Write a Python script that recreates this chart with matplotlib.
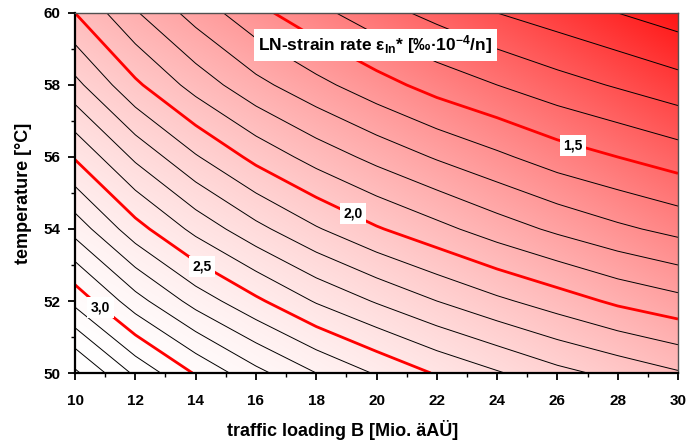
import numpy as np
import matplotlib.pyplot as plt
from matplotlib.ticker import MultipleLocator

plt.rcParams['font.family'] = ['Liberation Sans', 'DejaVu Sans']
plt.rcParams['font.weight'] = 'bold'
plt.rcParams['mathtext.fontset'] = 'custom'
plt.rcParams['mathtext.rm'] = 'Liberation Sans:bold'
plt.rcParams['mathtext.bf'] = 'Liberation Sans:bold'
plt.rcParams['mathtext.it'] = 'Liberation Sans:bold'

# grid: traffic loading B [Mio.] x temperature [°C]
traffic = [10, 12, 14, 16, 18, 20, 22, 24, 26, 28, 30]
temperature = [50, 52, 54, 56, 58, 60]
strain_50 = [3.42, 3.18, 2.99, 2.83, 2.70, 2.59, 2.49, 2.41, 2.33, 2.27, 2.21]
strain_52 = [3.07, 2.84, 2.66, 2.52, 2.39, 2.29, 2.20, 2.12, 2.05, 1.98, 1.93]
strain_54 = [2.76, 2.54, 2.37, 2.23, 2.11, 2.01, 1.93, 1.85, 1.78, 1.72, 1.67]
strain_56 = [2.49, 2.28, 2.11, 1.97, 1.86, 1.77, 1.69, 1.62, 1.55, 1.50, 1.45]
strain_58 = [2.23, 2.02, 1.86, 1.73, 1.63, 1.54, 1.46, 1.40, 1.34, 1.29, 1.24]
strain_60 = [2.00, 1.81, 1.66, 1.53, 1.43, 1.34, 1.27, 1.20, 1.15, 1.10, 1.05]

main_levels = [1.5, 2.0, 2.5, 3.0]
label_xy = [(26.52, 56.31), (19.22, 54.44), (14.2, 52.96), (10.85, 51.83)]

Z = np.array([strain_50, strain_52, strain_54, strain_56, strain_58, strain_60])
X, Y = np.meshgrid(traffic, temperature)

all_levels = np.round(np.arange(1.0, 3.65, 0.1), 1)
thin_levels = [l for l in all_levels if l not in main_levels]

fig = plt.figure(figsize=(6.87, 4.43), dpi=100)
ax = fig.add_axes([0.1092, 0.158, 0.8777, 0.8127])

# diagonal white -> red background
u = np.linspace(0, 1, 400)
v = np.linspace(0, 1, 300)
U, V = np.meshgrid(u, v)
t = ((U + V) / 2) ** 1.8
bg = np.dstack([np.ones_like(t), 1 - 0.92 * t, 1 - 0.92 * t])
ax.imshow(bg, extent=[10, 30, 50, 60], origin='lower', aspect='auto', zorder=0)

ax.contour(X, Y, Z, levels=thin_levels, colors='black', linewidths=0.7, zorder=1)
ax.contour(X, Y, Z, levels=main_levels, colors='#ff0000', linewidths=2.0, zorder=2)

for lev, (lx, ly) in zip(main_levels, label_xy):
    ax.text(lx, ly, f"{lev:.1f}".replace('.', ','), fontsize=10, fontweight='bold',
            ha='center', va='center', zorder=3,
            bbox=dict(facecolor='white', edgecolor='none', pad=2.5))

ax.text(0.498, 0.911, r"LN-strain rate ε$_{\mathbf{ln}}$* [‰·10$^{\mathbf{-4}}$/n]",
        transform=ax.transAxes, fontsize=12.5, fontweight='bold', ha='center', va='center',
        zorder=4, bbox=dict(facecolor='white', edgecolor='none', pad=3))

ax.set_xlim(10, 30)
ax.set_ylim(50, 60)
ax.xaxis.set_major_locator(MultipleLocator(2))
ax.xaxis.set_minor_locator(MultipleLocator(1))
ax.yaxis.set_major_locator(MultipleLocator(2))
ax.yaxis.set_minor_locator(MultipleLocator(1))
ax.tick_params(which='major', direction='out', length=5, width=1.3, labelsize=11)
ax.tick_params(which='minor', direction='out', length=3, width=1.0)
ax.tick_params(axis='x', which='major', pad=10)
ax.tick_params(axis='y', which='major', pad=5.5)
for lab in ax.get_xticklabels() + ax.get_yticklabels():
    lab.set_fontweight('bold')

for side in ['left', 'bottom']:
    ax.spines[side].set_linewidth(1.6)
    ax.spines[side].set_color('black')
for side in ['top', 'right']:
    ax.spines[side].set_linewidth(1.0)
    ax.spines[side].set_color('#505050')

ax.set_xlabel("traffic loading B [Mio. äAÜ]", fontsize=13, fontweight='bold')
ax.set_ylabel("temperature [°C]", fontsize=13, fontweight='bold')
ax.xaxis.set_label_coords(0.444, -0.131)
ax.yaxis.set_label_coords(-0.071, 0.5)

fig.savefig("out.png", dpi=100)
